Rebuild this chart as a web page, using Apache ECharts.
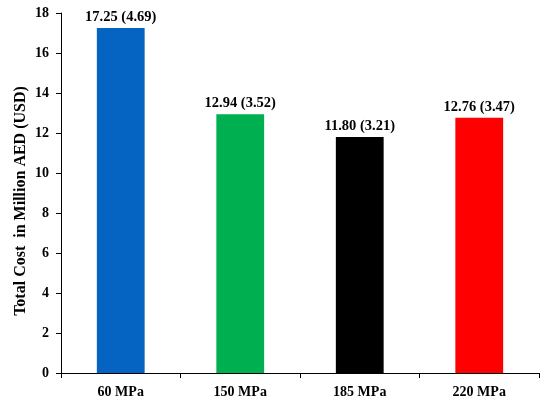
<!DOCTYPE html>
<html><head><meta charset="utf-8">
<script src="https://cdn.jsdelivr.net/npm/echarts@6/dist/echarts.min.js"></script>
<style>html,body{margin:0;padding:0;background:#fff}#c{width:550px;height:404px}</style>
</head><body><div id="c"></div>
<script>
var categories = ['60 MPa', '150 MPa', '185 MPa', '220 MPa'];
var costAED = [17.25, 12.94, 11.80, 12.76];
var costUSD = [4.69, 3.52, 3.21, 3.47];
var barColors = ['#0563C1', '#00B050', '#000000', '#FF0000'];
var yTicks = [0, 2, 4, 6, 8, 10, 12, 14, 16, 18];

var font = '"Liberation Serif", "Times New Roman", serif';
var chart = echarts.init(document.getElementById('c'));
chart.setOption({
  animation: false,
  grid: {left: 61, right: 11, top: 13, bottom: 31},
  xAxis: {
    type: 'category', data: categories,
    axisLine: {lineStyle: {color: '#000', width: 1}},
    axisTick: {show: true, alignWithLabel: false, length: 5, lineStyle: {color: '#000'}},
    axisLabel: {color: '#000', fontFamily: font, fontWeight: 'bold', fontSize: 14, margin: 12}
  },
  yAxis: {
    type: 'value', min: yTicks[0], max: yTicks[yTicks.length - 1], interval: 2,
    name: 'Total Cost  in Million AED (USD)', nameLocation: 'middle', nameGap: 32,
    nameMoveOverlap: false,
    nameTextStyle: {color: '#000', fontFamily: font, fontWeight: 'bold', fontSize: 16, padding: [0, 16, 0, 0]},
    axisLine: {show: true, lineStyle: {color: '#000', width: 1}},
    axisTick: {show: true, length: 5, lineStyle: {color: '#000'}},
    splitLine: {show: false},
    axisLabel: {color: '#000', fontFamily: font, fontWeight: 'bold', fontSize: 14, margin: 12}
  },
  series: [{
    type: 'bar', barWidth: '40%',
    data: costAED.map(function (v, i) {
      return {value: v, itemStyle: {color: barColors[i]}};
    }),
    label: {
      show: true, position: 'top', distance: 3, color: '#000',
      fontFamily: font, fontWeight: 'bold', fontSize: 14.5,
      formatter: function (p) {
        return costAED[p.dataIndex].toFixed(2) + ' (' + costUSD[p.dataIndex].toFixed(2) + ')';
      }
    }
  }]
});
</script></body></html>
